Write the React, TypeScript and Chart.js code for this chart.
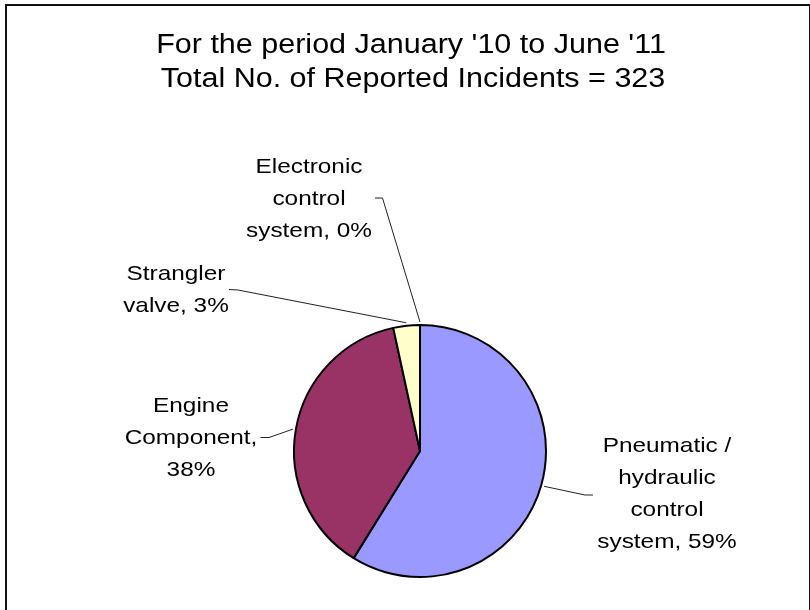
import React, { useEffect, useRef } from "react";
import { Chart, registerables } from "chart.js";

Chart.register(...registerables);

// ---- data ----
const categories = [
  "Pneumatic / hydraulic control system",
  "Engine Component",
  "Strangler valve",
  "Electronic control system",
];
const incidentCounts = [190, 122, 11, 0];
const sliceColors = ["#9999FF", "#993366", "#FFFFCC", "#FFFFCC"];
// label text lines; {p} is replaced by the computed percentage
const labelLines = [
  ["Pneumatic /", "hydraulic", "control", "system, {p}"],
  ["Engine", "Component,", "{p}"],
  ["Strangler", "valve, {p}"],
  ["Electronic", "control", "system, {p}"],
];
const periodText = "For the period January '10 to June '11";
const totalPrefix = "Total No. of Reported Incidents = ";

// ---- label placement (style, not data) ----
const labelPlacement = [
  { cx: 667, y0: 452, start: [593, 495], elbow: [585, 495] },
  { cx: 191, y0: 411.5, start: [260.5, 437.5], elbow: [269, 437.5] },
  { cx: 176, y0: 280, start: [229, 289.5], elbow: [238, 290] },
  { cx: 309, y0: 173, start: [375, 198], elbow: [382.5, 198] },
];

const FONT = '"Liberation Sans", Arial, Helvetica, sans-serif';

function drawText(
  ctx: CanvasRenderingContext2D,
  text: string,
  cx: number,
  baseline: number,
  size: number,
  sx: number
) {
  ctx.save();
  ctx.font = `${size}px ${FONT}`;
  ctx.textAlign = "center";
  ctx.textBaseline = "alphabetic";
  ctx.fillStyle = "#000";
  ctx.translate(cx, baseline);
  ctx.scale(sx, 1);
  ctx.fillText(text, 0, 0);
  ctx.restore();
}

const decorPlugin = {
  id: "decor",
  beforeDraw(chart: any) {
    const ctx = chart.ctx as CanvasRenderingContext2D;
    ctx.save();
    ctx.fillStyle = "#fff";
    ctx.fillRect(0, 0, chart.width, chart.height);
    ctx.strokeStyle = "#111";
    ctx.lineWidth = 2;
    ctx.strokeRect(6, 5, 804, 700);
    ctx.restore();
  },
  afterDraw(chart: any) {
    const ctx = chart.ctx as CanvasRenderingContext2D;
    const data = chart.data.datasets[0].data as number[];
    const total = data.reduce((a, b) => a + b, 0);
    // title
    drawText(ctx, periodText, 411, 53, 27, 1.13);
    drawText(ctx, totalPrefix + total, 413, 87, 27, 1.13);
    // labels with leader lines
    const meta = chart.getDatasetMeta(0);
    meta.data.forEach((arc: any, i: number) => {
      const p = arc.getProps(["x", "y", "startAngle", "endAngle", "outerRadius"], true);
      const mid = (p.startAngle + p.endAngle) / 2;
      const r = p.outerRadius + 3;
      const ax = p.x + Math.cos(mid) * r;
      const ay = p.y + Math.sin(mid) * r;
      const pl = labelPlacement[i];
      ctx.save();
      ctx.strokeStyle = "#222";
      ctx.lineWidth = 1;
      ctx.beginPath();
      ctx.moveTo(pl.start[0], pl.start[1]);
      ctx.lineTo(pl.elbow[0], pl.elbow[1]);
      ctx.lineTo(ax, ay);
      ctx.stroke();
      ctx.restore();
      const pct = Math.round((data[i] / total) * 100) + "%";
      labelLines[i].forEach((ln, k) => {
        drawText(ctx, ln.replace("{p}", pct), pl.cx, pl.y0 + k * 32, 21, 1.16);
      });
    });
  },
};

export default function App() {
  const ref = useRef<HTMLCanvasElement | null>(null);
  useEffect(() => {
    if (!ref.current) return;
    const chart = new Chart(ref.current, {
      type: "pie",
      data: {
        labels: categories,
        datasets: [
          {
            data: incidentCounts,
            backgroundColor: sliceColors,
            borderColor: "#000",
            borderWidth: 2,
          },
        ],
      },
      options: {
        responsive: false,
        animation: false,
        layout: { padding: { left: 293, right: 263, top: 324, bottom: 32 } },
        plugins: {
          legend: { display: false },
          tooltip: { enabled: false },
          title: { display: false },
        },
      },
      plugins: [decorPlugin],
    });
    return () => chart.destroy();
  }, []);
  return (
    <div style={{ position: "fixed", left: 0, top: 0, width: 810, height: 610, background: "#fff" }}>
      <canvas ref={ref} width={810} height={610} style={{ width: 810, height: 610, display: "block" }} />
    </div>
  );
}
